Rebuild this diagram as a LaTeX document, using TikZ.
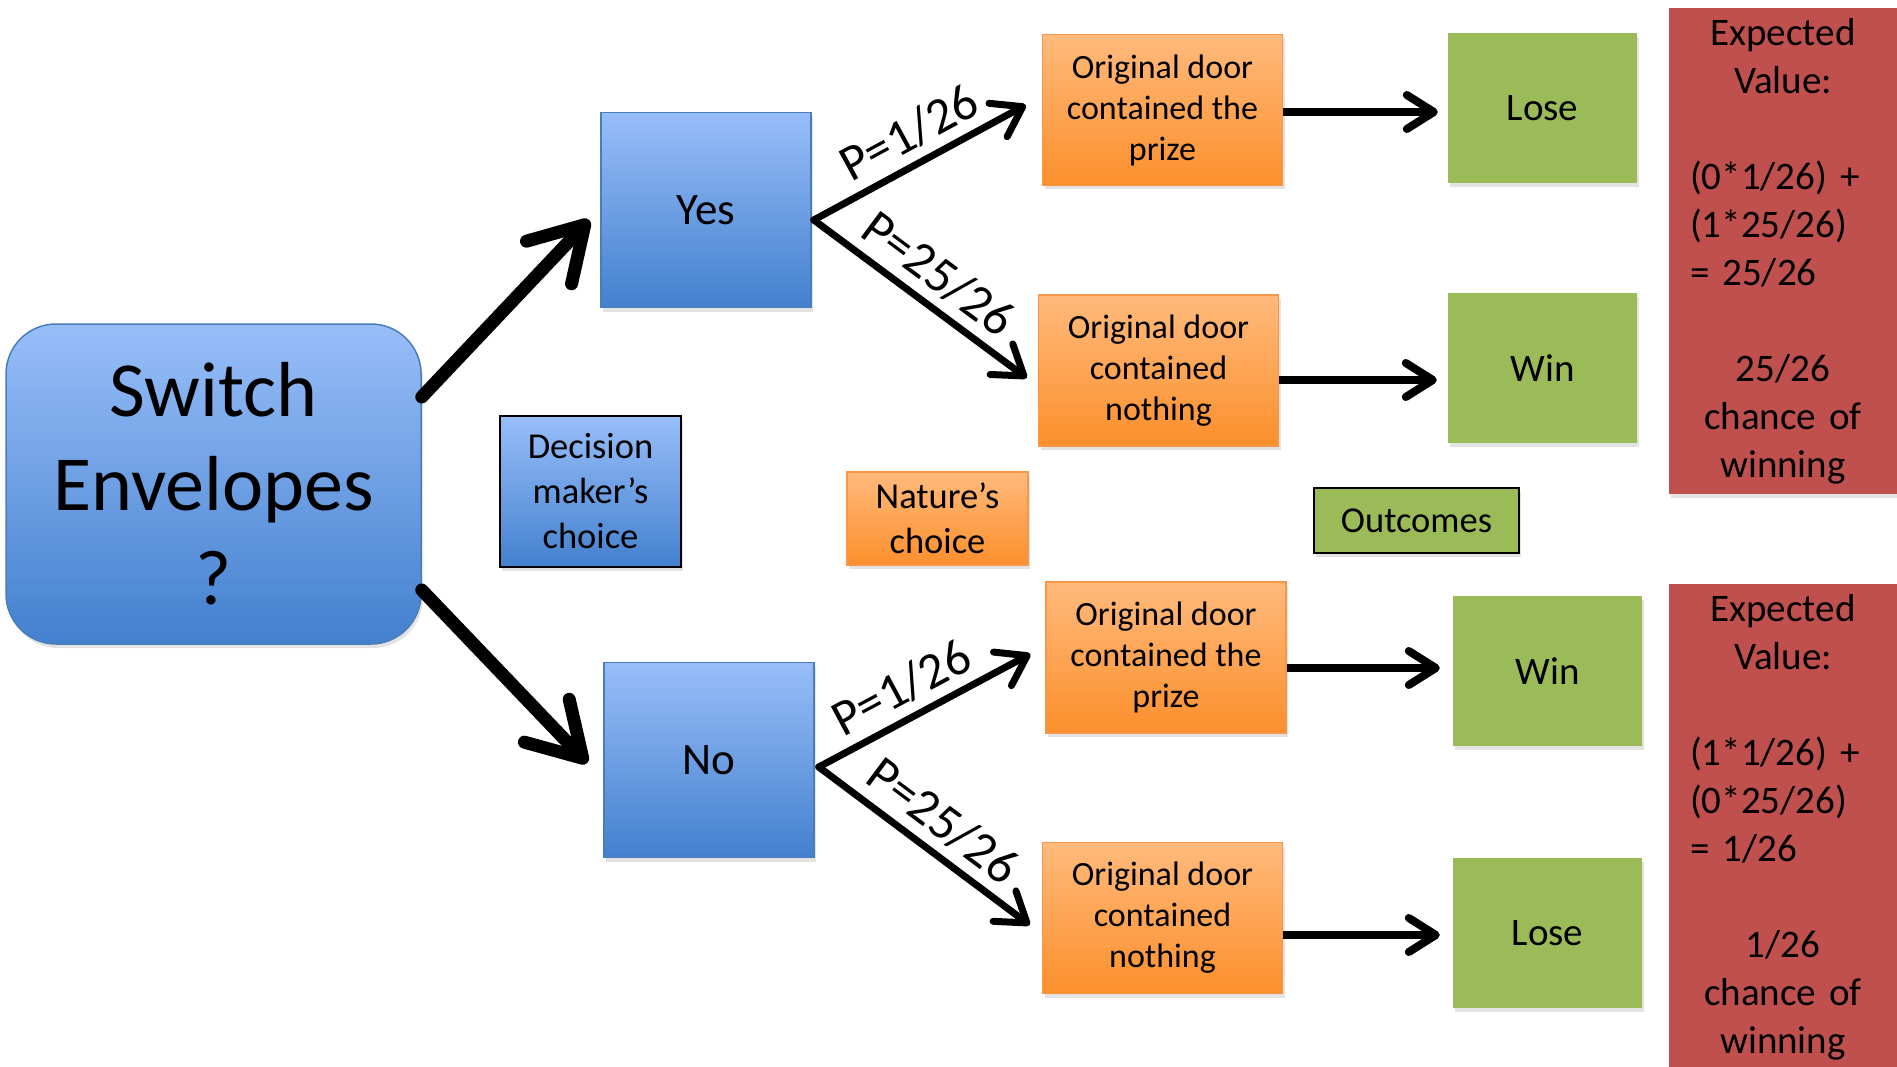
\documentclass[tikz,border=0pt]{standalone}
\usepackage{fontspec}
\setmainfont{Carlito}
\usepackage{xcolor}
\definecolor{blue-top}{HTML}{98BEF9}
\definecolor{blue-bottom}{HTML}{4380CE}
\definecolor{blue-line}{HTML}{4A7EBB}
\definecolor{orange-top}{HTML}{FFBA7C}
\definecolor{orange-bottom}{HTML}{FC8F2C}
\definecolor{orange-line}{HTML}{F79646}
\definecolor{olive}{HTML}{9BBB59}
\definecolor{brick}{HTML}{C0504D}
\usetikzlibrary{arrows.meta,shadows,calc}
\tikzset{
    x=1pt, y=-1pt, line join=round,
    soft shadow/.style = {drop shadow={opacity=0.22, shadow xshift=2pt, shadow yshift=-4pt}},
    decision/.style = {rectangle, draw=blue-line, line width=1.5pt, top color=blue-top,
        bottom color=blue-bottom, align=center, inner sep=0pt, soft shadow},
    chance/.style = {rectangle, draw=orange-line, line width=1.5pt, top color=orange-top,
        bottom color=orange-bottom, align=center, inner sep=0pt, soft shadow,
        minimum width=240pt, minimum height=151pt, font=\fontsize{34}{41}\selectfont},
    outcome/.style = {rectangle, fill=olive, align=center, inner sep=0pt, soft shadow,
        minimum width=189pt, minimum height=150pt, font=\fontsize{39}{48}\selectfont},
    value/.style = {rectangle, fill=brick, align=center, inner sep=0pt, soft shadow,
        text width=186pt, minimum width=228pt, minimum height=486pt,
        font=\fontsize{39}{48}\selectfont},
    choice/.style = {decision, minimum width=210pt, minimum height=195pt,
        font=\fontsize{45}{54}\selectfont},
    legend/.style = {font=\fontsize{36.5}{45}\selectfont},
    bigarrow/.style = {line width=13pt, line cap=round, -{Straight Barb[length=52pt, width=62pt, round]}},
    branch/.style = {line width=7pt, line cap=round, -{Straight Barb[length=28pt, width=38pt, round]}},
    flow/.style = {line width=8pt, -{Straight Barb[length=27pt, width=34pt, round]}},
    lbl/.style = {sloped, above, inner sep=9pt, font=\fontsize{51}{60}\selectfont}
}
\newcommand\lefttext[1]{\makebox[186pt][l]{#1}}

\begin{document}
\begin{tikzpicture}
    \useasboundingbox (0,0) rectangle (1897,1067);
    % decision
    \node[decision, rounded corners=50pt, minimum width=415pt, minimum height=320pt,
        font=\fontsize{78}{94}\selectfont] (SE) at (213.5,484) {Switch\\Envelopes\\?};
    \node[choice] (Yes) at (706,210) {Yes};
    \node[choice] (No) at (709,760) {No};

    % nature
    \node[chance] (O1) at (1162.5,110) {Original door\\contained the\\prize};
    \node[chance] (O2) at (1158.5,370.5) {Original door\\contained\\nothing};
    \node[chance] (O3) at (1166,657.5) {Original door\\contained the\\prize};
    \node[chance] (O4) at (1162.5,918) {Original door\\contained\\nothing};

    % outcomes
    \node[outcome] (G1) at (1542.5,108) {Lose};
    \node[outcome] (G2) at (1542.5,368) {Win};
    \node[outcome] (G3) at (1547.5,671) {Win};
    \node[outcome] (G4) at (1547.5,933) {Lose};

    \node[value] (EV1) at (1783,251) {Expected\\Value:\\[48pt]\lefttext{(0*1/26) +}\\\lefttext{(1*25/26)}\\\lefttext{= 25/26}\\[48pt]25/26\\chance of\\winning};
    \node[value] (EV2) at (1783,827) {Expected\\Value:\\[48pt]\lefttext{(1*1/26) +}\\\lefttext{(0*25/26)}\\\lefttext{= 1/26}\\[48pt]1/26\\chance of\\winning};

    % key
    \node[decision, legend, draw=black, minimum width=181pt, minimum height=151pt] (DM) at (590.5,491.5) {Decision\\maker’s\\choice};
    \node[chance, legend, minimum width=181pt, minimum height=93pt] (NC) at (937.5,518.5) {Nature’s\\choice};
    \node[outcome, legend, draw=black, line width=1.5pt, minimum width=205pt, minimum height=65pt] (OC) at (1416.5,520.5) {Outcomes};

    \draw[bigarrow] ([yshift=87pt]SE.east) -- ([xshift=-11pt,yshift=-10pt]Yes.west);
    \draw[bigarrow] ([yshift=-106pt]SE.east) -- ([xshift=-16pt,yshift=-3pt]No.west);

    \draw[branch] ([xshift=2pt,yshift=-10pt]Yes.east) -- node[lbl, pos=0.52] {P=1/26} ([xshift=-16pt,yshift=5pt]O1.west);
    \draw[branch] ([xshift=2pt,yshift=-10pt]Yes.east) -- node[lbl] {P=25/26} ([xshift=-11pt,yshift=-7.5pt]O2.west);
    \draw[branch] ([xshift=4pt,yshift=-7pt]No.east) -- node[lbl, pos=0.46] {P=1/26} ([xshift=-15pt,yshift=3.5pt]O3.west);
    \draw[branch] ([xshift=4pt,yshift=-7pt]No.east) -- node[lbl] {P=25/26} ([xshift=-12pt,yshift=-7pt]O4.west);

    \draw[flow] ([yshift=-2pt]O1.east) -- ([xshift=-10pt,yshift=-4pt]G1.west);
    \draw[flow] ([yshift=-9.5pt]O2.east) -- ([xshift=-11pt,yshift=-12pt]G2.west);
    \draw[flow] ([yshift=-10.5pt]O3.east) -- ([xshift=-13pt,yshift=3pt]G3.west);
    \draw[flow] ([yshift=-17pt]O4.east) -- ([xshift=-13pt,yshift=-2pt]G4.west);
\end{tikzpicture}
\end{document}
